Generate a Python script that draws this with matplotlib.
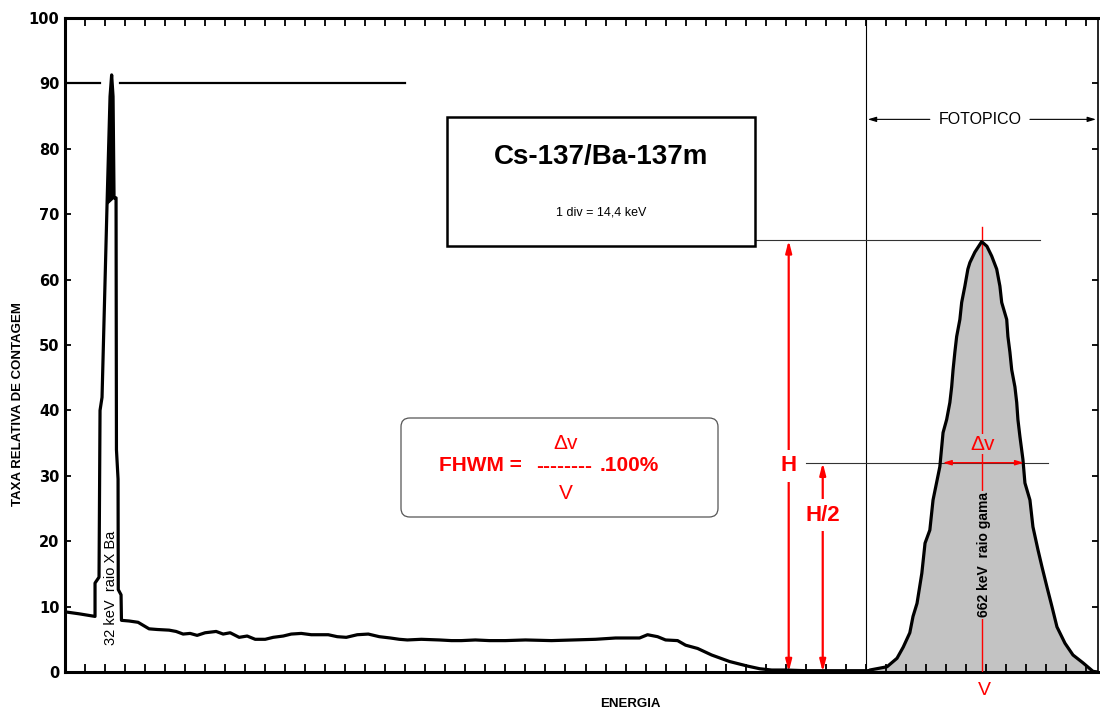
import matplotlib
matplotlib.use("Agg")
import matplotlib.pyplot as plt
import numpy as np
from matplotlib.patches import Rectangle, FancyBboxPatch

plt.rcParams["font.family"] = ["Liberation Sans", "DejaVu Sans"]

# espectro medido (x em divisoes do canal, y em taxa relativa de contagem)
cont_x = [0.00, 0.70, 1.50, 1.50, 1.70, 1.75, 1.85, 2.10, 2.25, 2.33, 2.40, 2.45,
          2.55, 2.57, 2.65, 2.66, 2.80, 2.82, 3.20, 3.65, 4.20, 4.60, 5.20, 5.55,
          5.90, 6.25, 6.60, 7.00, 7.55, 7.90, 8.25, 8.70, 9.10, 9.50, 10.0, 10.4,
          10.9, 11.3, 11.8, 12.3, 13.15, 13.6, 14.05, 14.6, 15.15, 15.7, 16.25,
          16.7, 17.1, 17.8, 18.7, 19.3, 19.8, 20.5, 21.2, 22.0, 23.0, 24.3, 25.4,
          26.5, 27.5, 28.7, 29.1, 29.6, 30.0, 30.6, 31.0, 31.6, 32.3, 33.2, 34.1,
          34.7, 35.3, 36.0, 37.0, 38.5, 40.2]
cont_y = [9.2, 8.9, 8.5, 13.6, 14.5, 40.0, 42.0, 71.5, 88.0, 91.3, 88.0, 72.5,
          72.5, 34.0, 29.5, 12.6, 11.8, 7.9, 7.8, 7.6, 6.6, 6.5, 6.4, 6.2,
          5.8, 5.9, 5.6, 6.0, 6.2, 5.8, 6.0, 5.3, 5.5, 5.0, 5.0, 5.3,
          5.5, 5.8, 5.9, 5.7, 5.7, 5.4, 5.3, 5.7, 5.8, 5.4, 5.2,
          5.0, 4.9, 5.0, 4.9, 4.8, 4.8, 4.9, 4.8, 4.8, 4.9, 4.8, 4.9,
          5.0, 5.2, 5.2, 5.7, 5.4, 4.9, 4.8, 4.1, 3.6, 2.6, 1.6, 0.9,
          0.5, 0.3, 0.3, 0.2, 0.2, 0.2]

peak_x = [40.2, 41.06, 41.56, 41.87, 42.2, 42.36, 42.56, 42.8, 42.96, 43.2, 43.36,
          43.7, 43.86, 44.04, 44.2, 44.29, 44.36, 44.45, 44.54, 44.7, 44.79, 44.95,
          45.1, 45.2, 45.45, 45.79, 46.05, 46.29, 46.54, 46.7, 46.79, 47.04, 47.1,
          47.2, 47.29, 47.45, 47.54, 47.6, 47.7, 47.85, 47.95, 48.2, 48.35, 48.6,
          48.8, 49.05, 49.3, 49.55, 49.95, 50.35, 50.85, 51.35, 51.6]
peak_y = [0.3, 0.8, 2.1, 3.8, 6.0, 8.5, 10.5, 15.1, 19.7, 21.7, 26.3,
          31.4, 36.6, 38.6, 41.2, 43.6, 46.2, 48.9, 51.3, 53.9, 56.5, 59.0,
          61.6, 62.6, 64.2, 65.8, 65.1, 63.6, 61.6, 59.0, 56.5, 53.9, 51.3,
          48.9, 46.2, 43.6, 41.2, 38.6, 36.0, 32.5, 28.9, 26.3, 22.2, 18.7,
          16.1, 13.0, 10.0, 6.9, 4.4, 2.6, 1.4, 0.1, 0.0]

PEAK_POS = 45.82      # centro do fotopico (V)
PEAK_H = 66.0         # altura H
HALF_LEVEL = 32.0     # nivel de meia altura desenhado
FWHM_LEFT, FWHM_RIGHT = 43.85, 47.9
PHOTO_START = 40.0
XRAY_LEVEL = 90

RED = "#ff0000"
GREY = "#c3c3c3"

fig = plt.figure(figsize=(11, 7.11), dpi=100)
ax = fig.add_axes([65 / 1100, 1 - 672 / 711, (1098 - 65) / 1100, (672 - 18) / 711])
ax.set_xlim(0, 51.6)
ax.set_ylim(0, 100)

# espectro
spec_x = np.array(cont_x + peak_x)
spec_y = np.array(cont_y + peak_y)
ax.fill_between(peak_x, peak_y, 0, color=GREY, zorder=1, linewidth=0)
ax.plot(spec_x, spec_y, color="black", lw=2.3, zorder=4)
# topo do pico de raio X preenchido
top = [(x, y) for x, y in zip(cont_x, cont_y) if 2.05 <= x <= 2.46 and y >= 70]
ax.fill([p[0] for p in top], [p[1] for p in top], color="black", zorder=4)

# linha de referencia em 90
ax.plot([0, 1.75], [XRAY_LEVEL, XRAY_LEVEL], color="black", lw=1.6, zorder=3)
ax.plot([2.75, 17.0], [XRAY_LEVEL, XRAY_LEVEL], color="black", lw=1.6, zorder=3)

# eixos
ax.set_yticks(np.arange(0, 101, 10))
ax.set_yticklabels([str(v) for v in range(0, 101, 10)],
                   fontsize=10.5, fontweight="bold", family="DejaVu Sans")
ax.set_xticks(np.arange(0, 52))
ax.tick_params(axis="x", direction="in", length=6, width=1.3,
               top=True, bottom=True, labelbottom=False)
ax.tick_params(axis="y", direction="in", length=4, width=1.3,
               left=True, right=True, pad=4)
for side in ("left", "top", "bottom"):
    ax.spines[side].set_linewidth(2.2)
ax.spines["right"].set_linewidth(1.2)

# regiao do fotopico
ax.axvline(PHOTO_START, color="black", lw=0.8, zorder=2)
ax.annotate("", xy=(PHOTO_START + 0.1, 84.5), xytext=(43.2, 84.5),
            arrowprops=dict(arrowstyle="-|>,head_length=0.5,head_width=0.15",
                            color="black", lw=0.8, shrinkA=0, shrinkB=0))
ax.annotate("", xy=(51.5, 84.5), xytext=(48.2, 84.5),
            arrowprops=dict(arrowstyle="-|>,head_length=0.5,head_width=0.15",
                            color="black", lw=0.8, shrinkA=0, shrinkB=0))
ax.text(45.7, 84.5, "FOTOPICO", ha="center", va="center", fontsize=11.5)

# linhas de altura e meia altura
ax.plot([34.5, 48.7], [PEAK_H, PEAK_H], color="#333333", lw=0.8, zorder=2)
ax.plot([37.0, 49.1], [HALF_LEVEL, HALF_LEVEL], color="#333333", lw=0.8, zorder=2)

ax.plot([PEAK_POS, PEAK_POS], [0, 68], color=RED, lw=1.0, zorder=3)
ax.annotate("", xy=(FWHM_LEFT, HALF_LEVEL), xytext=(FWHM_RIGHT, HALF_LEVEL),
            arrowprops=dict(arrowstyle="<|-|>,head_length=0.5,head_width=0.15",
                            color=RED, lw=1.0, shrinkA=0, shrinkB=0), zorder=5)
ax.text(PEAK_POS, 33.4, "\u0394v", ha="center", va="bottom", color=RED,
        fontsize=15, zorder=6,
        bbox=dict(facecolor=GREY, edgecolor="none", pad=0.5))
ax.text(PEAK_POS + 0.1, 17.9, "662 keV  raio gama", rotation=90, ha="center",
        va="center", fontsize=10, fontweight="bold", zorder=6,
        bbox=dict(facecolor=GREY, edgecolor="none", pad=1))
ax.text(PEAK_POS + 0.1, -2.8, "V", ha="center", va="center", color=RED, fontsize=14,
        clip_on=False)

# setas H e H/2
ax.annotate("", xy=(36.15, PEAK_H), xytext=(36.15, 0),
            arrowprops=dict(arrowstyle="<|-|>,head_length=0.7,head_width=0.18",
                            color=RED, lw=1.6, shrinkA=0, shrinkB=0))
ax.text(36.15, 31.5, "H", ha="center", va="center", color=RED, fontsize=16,
        fontweight="bold", bbox=dict(facecolor="white", edgecolor="none", pad=4))
ax.annotate("", xy=(37.85, HALF_LEVEL), xytext=(37.85, 0),
            arrowprops=dict(arrowstyle="<|-|>,head_length=0.7,head_width=0.18",
                            color=RED, lw=1.6, shrinkA=0, shrinkB=0))
ax.text(37.85, 24.0, "H/2", ha="center", va="center", color=RED, fontsize=16,
        fontweight="bold", bbox=dict(facecolor="white", edgecolor="none", pad=4))

# pico de raio X
ax.text(2.3, 12.9, "32 keV  raio X Ba", rotation=90, ha="center", va="center",
        fontsize=10.5, zorder=6)

# quadro do titulo
ax.add_patch(Rectangle((19.08, 65.2), 34.47 - 19.08, 84.8 - 65.2,
                       facecolor="white", edgecolor="black", lw=1.8, zorder=5))
ax.text(26.8, 78.8, "Cs-137/Ba-137m", ha="center", va="center", fontsize=20,
        fontweight="bold", zorder=6)
ax.text(26.8, 70.3, "1 div = 14,4 keV", ha="center", va="center", fontsize=9,
        zorder=6)

# quadro da formula
box = FancyBboxPatch((401 / 1100, 1 - 517 / 711), (718 - 401) / 1100, (517 - 418) / 711,
                     boxstyle="round,pad=0,rounding_size=0.008",
                     mutation_aspect=1100 / 711, transform=fig.transFigure,
                     facecolor="white", edgecolor="#555555", lw=0.9, zorder=5)
ax.add_patch(box)
ax.text(18.7, 31.6, "FHWM =", ha="left", va="center", color=RED, fontsize=15,
        fontweight="bold", zorder=6)
ax.text(24.95, 31.4, "--------", ha="center", va="center", color=RED, fontsize=15,
        fontweight="bold", zorder=6)
ax.text(26.7, 31.6, ".100%", ha="left", va="center", color=RED, fontsize=15,
        fontweight="bold", zorder=6)
ax.text(25.0, 34.9, "\u0394v", ha="center", va="center", color=RED, fontsize=15,
        zorder=6)
ax.text(25.0, 27.3, "V", ha="center", va="center", color=RED, fontsize=15,
        zorder=6)

fig.text(18 / 1100, 1 - 404 / 711, "TAXA RELATIVA DE CONTAGEM", rotation=90,
         ha="center", va="center", fontsize=9.5, fontweight="bold")
fig.text(630 / 1100, 1 - 704 / 711, "ENERGIA", ha="center", va="center",
         fontsize=9.5, fontweight="bold")

fig.savefig("out.png", dpi=100)
